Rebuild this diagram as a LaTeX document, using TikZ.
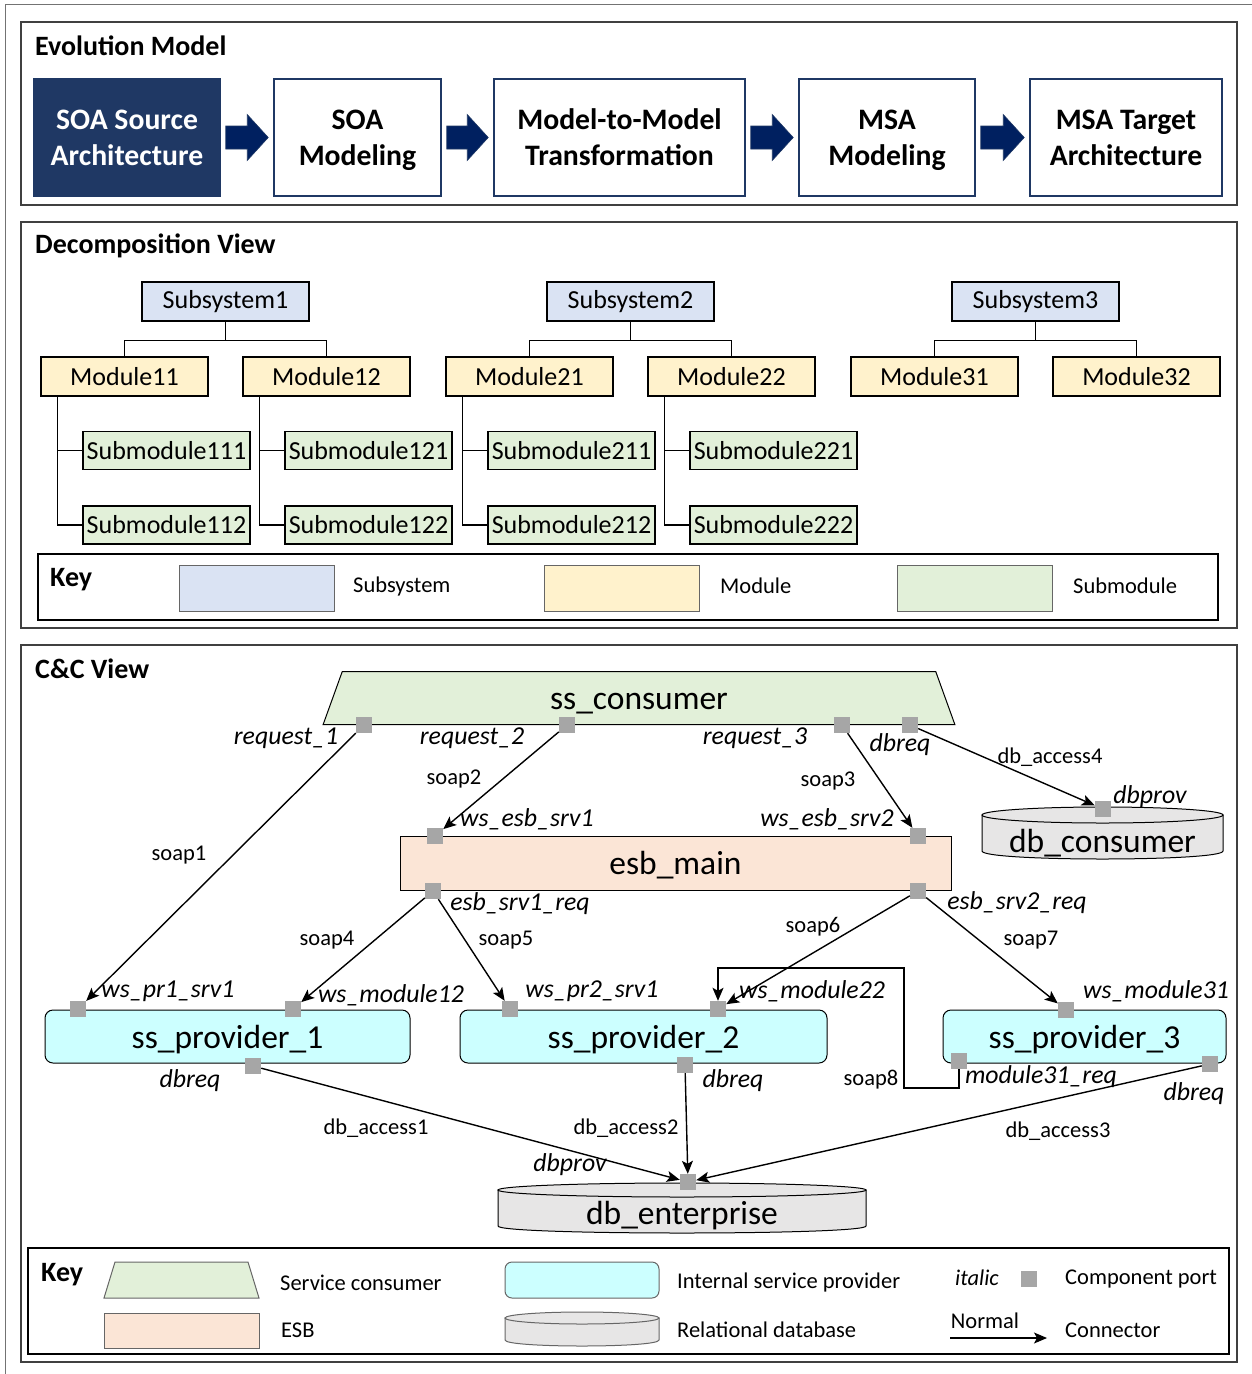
\documentclass[tikz,border=0pt]{standalone}
\usepackage{fontspec}
\setmainfont{Carlito}
\usetikzlibrary{arrows.meta,shapes.geometric,calc}
\newcommand{\setfz}[1]{\fontsize{#1}{#1}\selectfont}

\definecolor{navy}{HTML}{1F3864}
\definecolor{arrownavy}{HTML}{002060}
\definecolor{framegray}{HTML}{404040}
\definecolor{subsysfill}{HTML}{DAE3F3}
\definecolor{modfill}{HTML}{FFF2CC}
\definecolor{subfill}{HTML}{E2F0D9}
\definecolor{esbfill}{HTML}{FBE5D6}
\definecolor{provfill}{HTML}{CCFFFF}
\definecolor{dbfill}{HTML}{E7E6E6}
\definecolor{portgray}{HTML}{A6A6A6}

% cylinder outline: left x, right x, top-ellipse y, bottom-arc y, ellipse y-radius, style
\newcommand{\dbcyl}[6]{%
  \draw[#6] (#1,#3) -- (#1,#4) .. controls (#1,#4+1.333*#5) and (#2,#4+1.333*#5) .. (#2,#4) -- (#2,#3) -- cycle;
  \draw[#6] ({(#1+#2)/2},#3) ellipse [x radius={(#2-#1)/2}, y radius=#5];
}

\begin{document}
\begin{tikzpicture}[x=1pt,y=-1pt,
  section/.style={draw=framegray,line width=1.5pt},
  title/.style={anchor=west,inner sep=0pt,font=\setfz{28}\bfseries},
  evo/.style={draw=navy,line width=1.5pt,fill=white,minimum height=117pt,inner sep=0pt,align=center,
    text depth=0pt,font=\fontsize{29.7}{36}\selectfont\bfseries},
  blockarrow/.style={fill=arrownavy,draw=navy,line width=0.6pt},
  dnode/.style={draw=black,line width=1.3pt,minimum width=167pt,minimum height=39pt,inner sep=0pt,font=\setfz{26}},
  subnode/.style={dnode,minimum height=38pt,fill=subfill},
  tree/.style={draw=black,line width=1.3pt},
  keybox/.style={draw=black,line width=1.2pt},
  swatch/.style={draw=black!60,line width=1pt,minimum width=155pt,minimum height=46pt,inner sep=0pt},
  swline/.style={draw=black!60,line width=1pt},
  keytext/.style={anchor=west,inner sep=0pt,font=\setfz{22.5}},
  comp/.style={inner sep=0pt,text height=23pt,text depth=0pt,font=\setfz{33.5}},
  consumer/.style={comp,trapezium,trapezium stretches=true,trapezium left angle=76,trapezium right angle=76,
    minimum width=632pt,minimum height=53pt,draw=black,line width=1pt,fill=subfill},
  esb/.style={comp,draw=black,line width=1pt,fill=esbfill,minimum width=551pt,minimum height=54pt},
  prov/.style={comp,draw=black,line width=1pt,fill=provfill,rounded corners=8pt,minimum height=53pt},
  dbshape/.style={draw=black,line width=1pt,fill=dbfill},
  port/.style={fill=portgray,minimum size=16pt,inner sep=0pt},
  conn/.style={draw=black,line width=1.4pt,-{Stealth[length=13pt,width=11pt,inset=3pt]}},
  plab/.style={inner sep=0pt,font=\setfz{25.8}\itshape},
  clab/.style={inner sep=0pt,font=\setfz{22.5}}
]
\useasboundingbox (0,0) rectangle (1252,1374);

% outer frame and the three panels
\draw[black!55,line width=0.8pt] (5,1374) -- (5,4) -- (1252,4);
\draw[section] (21,22) rectangle (1237,205);
\draw[section] (21,222) rectangle (1237,628);
\draw[section] (21,645) rectangle (1237,1362);

% ---------------- Evolution Model ----------------
\node[title] (tEvo) at (35,46) {Evolution Model};
\node[evo,fill=navy,text=white,minimum width=186pt] (e1) at (127,137.5) {SOA Source\\Architecture};
\node[evo,minimum width=167pt] (e2) at (357.5,137.5) {SOA\\Modeling};
\node[evo,minimum width=251pt] (e3) at (619.5,137.5) {Model-to-Model\\Transformation};
\node[evo,minimum width=176pt] (e4) at (887,137.5) {MSA\\Modeling};
\node[evo,minimum width=192pt] (e5) at (1126,137.5) {MSA Target\\Architecture};
\foreach \a/\b in {e1/e2,e2/e3,e3/e4,e4/e5}{
  \draw[blockarrow] ($(\a.east)+(5,-11.5)$) -- ($(\b.west)+(-26,-11.5)$) -- ($(\b.west)+(-26,-23)$)
    -- ($(\b.west)+(-5,0)$) -- ($(\b.west)+(-26,23)$) -- ($(\b.west)+(-26,11.5)$) -- ($(\a.east)+(5,11.5)$) -- cycle;
}

% ---------------- Decomposition View ----------------
\node[title] (tDec) at (35,246) {Decomposition View};
\node[dnode,fill=subsysfill] (S1) at (225.5,301.5) {Subsystem1};
\node[dnode,fill=subsysfill] (S2) at (630.5,301.5) {Subsystem2};
\node[dnode,fill=subsysfill] (S3) at (1035.5,301.5) {Subsystem3};
\node[dnode,fill=modfill] (M11) at (124.5,376.5) {Module11};
\node[dnode,fill=modfill] (M12) at (326.5,376.5) {Module12};
\node[dnode,fill=modfill] (M21) at (529.5,376.5) {Module21};
\node[dnode,fill=modfill] (M22) at (731.5,376.5) {Module22};
\node[dnode,fill=modfill] (M31) at (934.5,376.5) {Module31};
\node[dnode,fill=modfill] (M32) at (1136.5,376.5) {Module32};
\node[subnode] (U111) at (166.5,450.5) {Submodule111};
\node[subnode] (U112) at (166.5,525) {Submodule112};
\node[subnode] (U121) at (368.5,450.5) {Submodule121};
\node[subnode] (U122) at (368.5,525) {Submodule122};
\node[subnode] (U211) at (571.5,450.5) {Submodule211};
\node[subnode] (U212) at (571.5,525) {Submodule212};
\node[subnode] (U221) at (773.5,450.5) {Submodule221};
\node[subnode] (U222) at (773.5,525) {Submodule222};
\foreach \s/\l/\r in {S1/M11/M12,S2/M21/M22,S3/M31/M32}{
  \draw[tree] (\s.south) -- ++(0,18.5) -| (\l.north);
  \draw[tree] (\s.south) -- ++(0,18.5) -| (\r.north);
}
\foreach \m/\a/\b in {M11/U111/U112,M12/U121/U122,M21/U211/U212,M22/U221/U222}{
  \draw[tree] ($(\m.south west)+(17,0)$) |- (\a.west);
  \draw[tree] ($(\m.south west)+(17,0)$) |- (\b.west);
}
% key
\draw[keybox] (38,554) rectangle (1218,620);
\node[title] (kDec) at (50,580) {Key};
\node[swatch,fill=subsysfill] (kS) at (256.5,588) {};
\node[keytext] (kSt) at (353,586) {Subsystem};
\node[swatch,fill=modfill] (kM) at (621.5,588) {};
\node[keytext] (kMt) at (720,586) {Module};
\node[swatch,fill=subfill] (kU) at (974.5,588) {};
\node[keytext] (kUt) at (1073,586) {Submodule};

% ---------------- C&C View ----------------
\node[title] (tCC) at (35,669) {C\&C View};

\node[consumer] (cons) at (639,698) {ss\_consumer};
\node[esb] (esb) at (675.5,863) {esb\_main};
\node[prov,minimum width=365pt] (P1) at (227.5,1036.5) {ss\_provider\_1};
\node[prov,minimum width=367pt] (P2) at (643.5,1036.5) {ss\_provider\_2};
\node[prov,minimum width=283pt] (P3) at (1084.5,1036.5) {ss\_provider\_3};

\dbcyl{982}{1223}{815}{851}{8}{dbshape}
\node[comp] (dbc) at (1102.5,840.5) {db\_consumer};
\dbcyl{498}{866}{1190}{1226}{7}{dbshape}
\node[comp] (dbe) at (682,1213) {db\_enterprise};

% ports
\node[port] (pR1) at (364,725) {};
\node[port] (pR2) at (567,725) {};
\node[port] (pR3) at (842,725) {};
\node[port] (pDq) at (910,725) {};
\node[port] (pDc) at (1103,809) {};
\node[port] (pE1) at (435,836) {};
\node[port] (pE2) at (918,836) {};
\node[port] (pE3) at (433,891) {};
\node[port] (pE4) at (918,891) {};
\node[port] (pP1a) at (78,1009) {};
\node[port] (pP1b) at (293,1009) {};
\node[port] (pP1c) at (253,1066) {};
\node[port] (pP2a) at (510,1009) {};
\node[port] (pP2b) at (718,1009) {};
\node[port] (pP2c) at (685,1065) {};
\node[port] (pP3a) at (1066,1010) {};
\node[port] (pP3b) at (959,1061) {};
\node[port] (pP3c) at (1210,1064) {};
\node[port] (pDe) at (688,1182) {};

% connectors
\draw[conn] (pR1) -- (pP1a);
\draw[conn] (pR2) -- (pE1);
\draw[conn] (pR3) -- (pE2);
\draw[conn] (pDq) -- (pDc);
\draw[conn] (pE3) -- (pP1b);
\draw[conn] (pE3) -- (pP2a);
\draw[conn] (pE4) -- (pP2b);
\draw[conn] (pE4) -- (pP3a);
\coordinate (s8a) at (904,1088);
\coordinate (s8b) at (904,968);
\draw[conn] (pP3b.south) |- (s8a) -- (s8b) -| (pP2b.north);
\draw[conn] (pP1c) -- (pDe);
\draw[conn] (pP2c) -- (pDe);
\draw[conn] (pP3c) -- (pDe);

% port labels
\node[plab] (lR1) at (286,738) {request\_1};
\node[plab] (lR2) at (472,738) {request\_2};
\node[plab] (lR3) at (755,738) {request\_3};
\node[plab] (lDq) at (900,745) {dbreq};
\node[plab] (lDc) at (1150,797) {dbprov};
\node[plab] (lE1) at (527,819) {ws\_esb\_srv1};
\node[plab] (lE2) at (827,819) {ws\_esb\_srv2};
\node[plab] (lE3) at (520,904) {esb\_srv1\_req};
\node[plab] (lE4) at (1017,903) {esb\_srv2\_req};
\node[plab] (lP1a) at (168,991) {ws\_pr1\_srv1};
\node[plab] (lP1b) at (391,995) {ws\_module12};
\node[plab] (lP2a) at (592,991) {ws\_pr2\_srv1};
\node[plab] (lP2b) at (812,991) {ws\_module22};
\node[plab] (lP3a) at (1156,991) {ws\_module31};
\node[plab] (lP1c) at (190,1081) {dbreq};
\node[plab] (lP2c) at (733,1081) {dbreq};
\node[plab] (lP3b) at (1041,1077) {module31\_req};
\node[plab] (lP3c) at (1194,1094) {dbreq};
\node[plab] (lDe) at (570,1165) {dbprov};

% connector labels
\node[clab] (c1) at (179,855) {soap1};
\node[clab] (c2) at (454,779) {soap2};
\node[clab] (c3) at (828,781) {soap3};
\node[clab] (c4) at (327,940) {soap4};
\node[clab] (c5) at (506,940) {soap5};
\node[clab] (c6) at (813,927) {soap6};
\node[clab] (c7) at (1031,940) {soap7};
\node[clab] (c8) at (871,1080) {soap8};
\node[clab] (d1) at (376,1128) {db\_access1};
\node[clab] (d2) at (626,1128) {db\_access2};
\node[clab] (d3) at (1058,1131) {db\_access3};
\node[clab] (d4) at (1050,757) {db\_access4};

% key
\draw[keybox] (28,1248) rectangle (1229,1354);
\node[title] (kCC) at (41,1275) {Key};
\draw[swline,fill=subfill] (104,1298) -- (115,1262) -- (248,1262) -- (259,1298) -- cycle;
\node[keytext] (kt1) at (280,1283) {Service consumer};
\draw[swline,fill=esbfill] (104,1313) rectangle (259,1348);
\node[keytext] (kt2) at (281,1330) {ESB};
\draw[swline,fill=provfill,rounded corners=7pt] (505,1262) rectangle (659,1298);
\node[keytext] (kt3) at (677,1282) {Internal service provider};
\dbcyl{505}{659}{1318}{1340}{6}{swline,fill=dbfill}
\node[keytext] (kt4) at (677,1330) {Relational database};
\node[inner sep=0pt,font=\setfz{22.5}\itshape] (kIt) at (977,1278) {italic};
\node[port] (kPort) at (1029,1279) {};
\node[keytext] (kt5) at (1065,1279) {Component port};
\node[inner sep=0pt,font=\setfz{22.5}] (kNo) at (985,1321) {Normal};
\coordinate (kA) at (950,1338);
\coordinate (kB) at (1047,1338);
\draw[conn,line width=1.2pt] (kA) -- (kB);
\node[keytext] (kt6) at (1065,1330) {Connector};
\end{tikzpicture}
\end{document}
